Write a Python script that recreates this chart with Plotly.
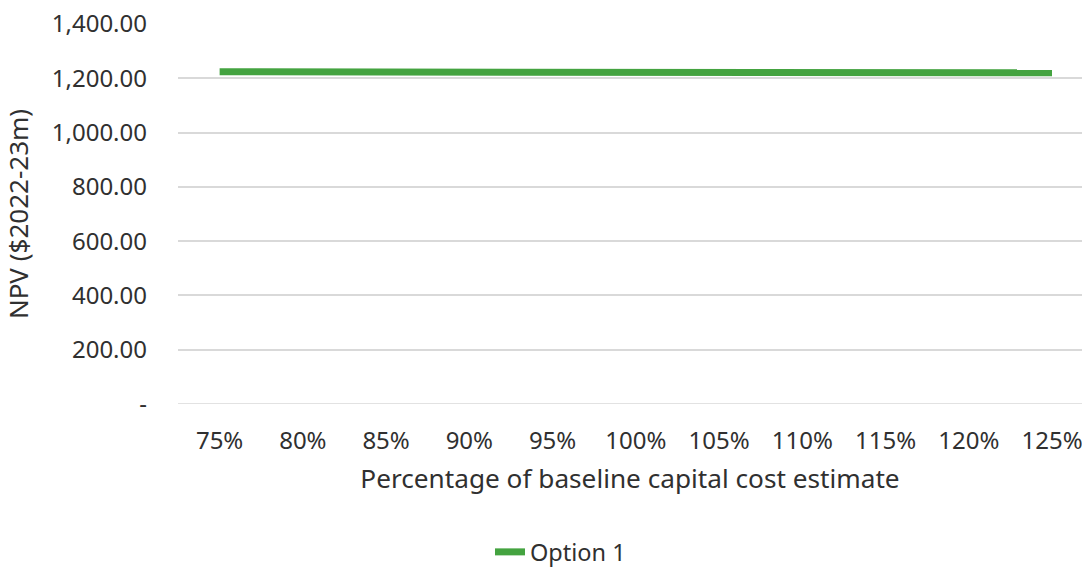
import plotly.graph_objects as go

categories = ["75%", "80%", "85%", "90%", "95%", "100%", "105%", "110%", "115%", "120%", "125%"]
option1 = [1224, 1224, 1224, 1224, 1224, 1220, 1220, 1220, 1220, 1220, 1220]
y_ticks = [0, 200, 400, 600, 800, 1000, 1200, 1400]
y_tick_labels = ["-", "200.00", "400.00", "600.00", "800.00", "1,000.00", "1,200.00", "1,400.00"]

FONT = "Noto Sans"
TXT = "#303030"

fig = go.Figure()
fig.add_trace(go.Scatter(
    x=categories, y=option1, mode="lines", name="Option 1",
    line=dict(color="#44A340", width=7),
))

fig.update_layout(
    width=1082, height=568,
    margin=dict(l=178, r=0, t=24, b=164),
    paper_bgcolor="white", plot_bgcolor="white",
    font=dict(family=FONT, size=24, color=TXT),
    showlegend=True,
    legend=dict(orientation="h", x=0.518, xanchor="center", xref="container",
                y=0.028, yanchor="middle", yref="container",
                font=dict(size=23.5, color=TXT)),
    xaxis=dict(
        type="category", range=[-0.5, 10.36],
        showgrid=False, showline=False, zeroline=False, ticks="",
        ticklabelstandoff=20,
        tickfont=dict(size=24, color=TXT),
        title=dict(text="Percentage of baseline capital cost estimate", standoff=14,
                   font=dict(size=26.2, color=TXT)),
    ),
    yaxis=dict(
        range=[0, 1400], tickmode="array", tickvals=y_ticks, ticktext=y_tick_labels,
        showgrid=True, gridcolor="#D9D9D9", gridwidth=1.5, zeroline=False,
        showline=False, ticks="", ticklabelstandoff=30,
        tickfont=dict(size=24, color=TXT),
        title=dict(text="NPV ($2022-23m)", standoff=16, font=dict(size=26, color=TXT)),
    ),
)
fig.add_shape(type="line", xref="paper", yref="y", x0=0, x1=1, y0=0, y1=0,
              line=dict(color="#D9D9D9", width=1.5), layer="below")

fig.write_html("out.html")
